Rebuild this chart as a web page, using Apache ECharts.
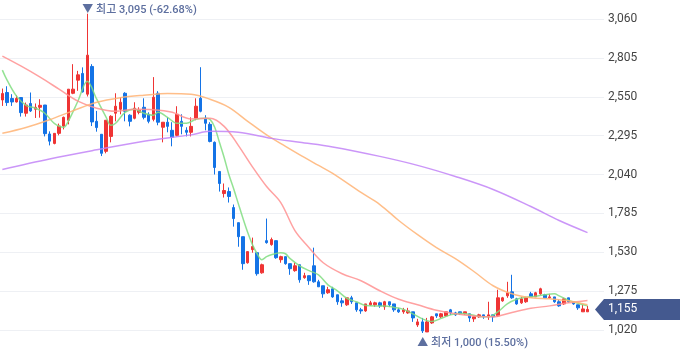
<!DOCTYPE html>
<html><head><meta charset="utf-8">
<script src="https://cdn.jsdelivr.net/npm/echarts@6/dist/echarts.min.js"></script>
<style>html,body{margin:0;padding:0;background:#fff}#c{width:680px;height:358px}</style>
</head><body><div id="c"></div>
<script>
const opens = [2529,2578,2539,2516,2545,2442,2506,2468,2481,2496,
 2306,2244,2310,2358,2396,2573,2659,2703,2567,2749,
 2389,2304,2192,2290,2442,2468,2573,2429,2409,2448,
 2481,2435,2402,2573,2350,2383,2330,2297,2389,2330,
 2317,2409,2540,2409,2369,2251,2060,1915,1928,1823,
 1724,1632,1461,1547,1527,1395,1606,1580,1606,1481,
 1501,1455,1409,1448,1363,1376,1441,1336,1310,1264,
 1290,1251,1211,1185,1231,1198,1152,1145,1185,1185,
 1198,1172,1205,1191,1152,1139,1132,1139,1053,1073,
 1007,1066,1126,1106,1112,1152,1132,1139,1126,1126,
 1093,1106,1119,1106,1119,1112,1211,1244,1270,1224,
 1198,1205,1257,1237,1257,1251,1231,1237,1205,1191,
 1231,1205,1185,1139,1139];
const closes = [2571,2512,2516,2539,2446,2496,2457,2481,2494,2308,
 2259,2310,2358,2415,2600,2600,2694,2582,2823,2385,
 2348,2179,2396,2422,2488,2514,2455,2389,2475,2461,
 2415,2389,2547,2383,2383,2356,2284,2435,2356,2317,
 2356,2488,2455,2376,2257,2086,1981,1935,1896,1751,
 1632,1455,1534,1567,1389,1448,1593,1613,1494,1501,
 1455,1422,1441,1349,1376,1343,1336,1303,1257,1284,
 1237,1205,1198,1231,1205,1152,1145,1191,1198,1198,
 1178,1205,1185,1152,1139,1152,1145,1099,1073,1014,
 1073,1106,1112,1126,1139,1132,1119,1126,1139,1099,
 1106,1119,1106,1119,1106,1231,1231,1264,1231,1191,
 1224,1231,1237,1264,1290,1231,1237,1205,1178,1224,
 1205,1191,1165,1158,1155];
const lows = [2490,2490,2490,2512,2420,2420,2450,2411,2413,2290,
 2231,2238,2297,2336,2369,2567,2589,2578,2552,2358,
 2321,2161,2179,2251,2389,2435,2389,2356,2402,2435,
 2402,2376,2389,2363,2251,2317,2225,2290,2304,2290,
 2290,2396,2448,2330,2251,2040,1928,1889,1856,1698,
 1566,1415,1455,1527,1376,1389,1586,1573,1487,1461,
 1448,1382,1402,1330,1356,1316,1330,1303,1231,1257,
 1231,1185,1172,1178,1191,1139,1126,1139,1178,1172,
 1165,1152,1172,1139,1132,1126,1126,1073,1040,1000,
 1007,1060,1099,1099,1106,1119,1112,1119,1119,1073,
 1073,1099,1093,1086,1073,1106,1205,1231,1224,1185,
 1191,1198,1237,1237,1251,1231,1224,1198,1172,1185,
 1198,1185,1152,1139,1139];
const highs = [2604,2619,2567,2560,2545,2512,2578,2506,2534,2496,
 2323,2310,2374,2420,2600,2764,2720,2743,3095,2764,
 2457,2304,2396,2429,2573,2547,2580,2435,2514,2481,
 2540,2448,2679,2587,2383,2415,2383,2488,2435,2350,
 2415,2540,2744,2429,2383,2257,2060,1981,1955,1843,
 1724,1632,1534,1626,1527,1455,1751,1626,1606,1507,
 1501,1455,1461,1448,1395,1376,1560,1349,1310,1303,
 1303,1251,1231,1231,1244,1198,1165,1191,1211,1205,
 1205,1211,1205,1191,1165,1165,1165,1139,1093,1099,
 1099,1112,1126,1132,1139,1158,1139,1139,1139,1126,
 1106,1126,1119,1205,1119,1284,1237,1336,1382,1231,
 1237,1237,1270,1270,1297,1257,1257,1237,1218,1231,
 1231,1205,1185,1185,1178];

// moving-average lines: [candle index, value]
const ma5 = [[0,2725],[1,2659],[3,2554],[5,2494],[7,2475],[9,2442],[11,2376],[13,2350],[14,2391],[16,2521],[18,2652],[20,2534],[22,2415],[23,2363],[24,2376],[26,2448],[28,2468],[30,2442],[32,2429],[33,2448],[35,2415],[37,2376],[39,2376],[41,2402],[43,2409],[44,2402],[45,2350],[46,2251],[47,2152],[48,2040],[49,1948],[50,1849],[51,1751],[52,1659],[53,1580],[54,1520],[55,1481],[56,1501],[57,1514],[59,1527],[60,1520],[61,1488],[63,1441],[65,1409],[67,1382],[69,1316],[71,1277],[73,1228],[75,1205],[77,1181],[79,1178],[81,1178],[83,1168],[85,1155],[87,1126],[89,1093],[91,1076],[93,1096],[95,1119],[97,1129],[99,1122],[101,1109],[103,1106],[105,1139],[107,1191],[109,1221],[111,1234],[113,1241],[115,1251],[117,1257],[118,1244],[120,1214],[122,1195],[124,1178]];
const ma20 = [[0,2817],[4,2751],[8,2679],[12,2600],[16,2521],[20,2475],[24,2455],[28,2468],[32,2465],[36,2448],[40,2405],[44,2409],[47,2356],[50,2231],[53,2090],[56,1961],[59,1856],[62,1672],[65,1560],[68,1461],[72,1389],[76,1343],[80,1277],[84,1221],[88,1185],[92,1149],[96,1126],[100,1112],[104,1106],[108,1135],[112,1162],[116,1178],[120,1198],[124,1214]];
const ma60 = [[0,2310],[5,2348],[10,2399],[15,2458],[20,2514],[25,2544],[30,2560],[35,2571],[40,2567],[44,2534],[48,2481],[52,2389],[56,2300],[60,2225],[64,2152],[67,2100],[70,2047],[76,1922],[80,1843],[84,1738],[88,1645],[92,1560],[96,1488],[100,1402],[104,1310],[108,1257],[112,1231],[116,1224],[120,1211],[124,1185]];
const ma120 = [[0,2073],[10,2142],[20,2202],[30,2258],[40,2300],[44,2323],[50,2317],[57,2277],[63,2251],[70,2221],[80,2159],[88,2100],[96,2027],[104,1942],[112,1830],[118,1738],[124,1659]];

const yTicks = [1020,1275,1530,1785,2040,2295,2550,2805,3060];
const yMin = 836, yMax = 3185;
const highLabel = '▼ 최고 3,095 (-62.68%)';
const lowLabel = '▲ 최저 1,000 (15.50%)';
const lastLabel = '1,155';

const N = opens.length;
const cats = [];
for (let i = 0; i < N + 3; i++) cats.push(String(i));
const candles = opens.map((o, i) => [o, closes[i], lows[i], highs[i]]);
let hiIdx = 0, loIdx = 0;
highs.forEach((h, i) => { if (h > highs[hiIdx]) hiIdx = i; });
lows.forEach((l, i) => { if (l < lows[loIdx]) loIdx = i; });

const FONT = 'Roboto, "Noto Sans CJK KR", sans-serif';
const chart = echarts.init(document.getElementById('c'), null, {renderer: 'canvas'});
function maSeries(data, color) {
  return {type: 'line', data: data, smooth: 0.35, symbol: 'none', silent: true, z: 3,
    lineStyle: {color: color, width: 1.5, opacity: 0.85}};
}
chart.setOption({
  animation: false,
  grid: {left: 0, right: 76, top: 0, bottom: 0, containLabel: false},
  xAxis: {type: 'category', data: cats, boundaryGap: true, show: false},
  yAxis: {type: 'value', position: 'right', min: yMin, max: yMax,
    axisLine: {show: false},
    axisTick: {show: false, customValues: yTicks},
    splitLine: {show: false},
    axisLabel: {margin: 4, color: '#444', fontSize: 12, fontFamily: FONT, customValues: yTicks,
      formatter: v => v.toLocaleString('en-US')}},
  series: [
    {type: 'candlestick', data: candles, barWidth: 3, z: 2,
      itemStyle: {color: '#ef3434', color0: '#1473e6', borderColor: '#ef3434', borderColor0: '#1473e6', borderWidth: 1},
      markLine: {symbol: 'none', silent: true, z: 1, label: {show: false},
        lineStyle: {color: '#eef0f4', width: 1, type: 'solid'},
        data: yTicks.map(v => ({yAxis: v}))},
      markPoint: {symbol: 'circle', symbolSize: 0, silent: true,
        label: {show: true, fontSize: 11, fontWeight: 500, fontFamily: FONT, color: '#5d6f9f', align: 'left', verticalAlign: 'middle'},
        data: [
          {coord: [hiIdx, highs[hiIdx]], value: highs[hiIdx], label: {formatter: highLabel, position: [-5, -3]}},
          {coord: [loIdx, lows[loIdx]], value: lows[loIdx], label: {formatter: lowLabel, position: [-5, 10]}}
        ]}},
    maSeries(ma5, '#80dd80'),
    maSeries(ma20, '#ff9090'),
    maSeries(ma60, '#ffb374'),
    maSeries(ma120, '#c284f7')
  ]
});
const py = chart.convertToPixel({yAxisIndex: 0}, closes[N - 1]);
chart.setOption({graphic: [
  {type: 'polygon', shape: {points: [[595, py], [604, py - 10.5], [680, py - 10.5], [680, py + 10.5], [604, py + 10.5]]},
    style: {fill: '#44598f'}, z: 10},
  {type: 'text', x: 608, y: py, style: {text: lastLabel, fill: '#fff', font: '12px ' + FONT, verticalAlign: 'middle', align: 'left'}, z: 11}
]});
</script></body></html>
